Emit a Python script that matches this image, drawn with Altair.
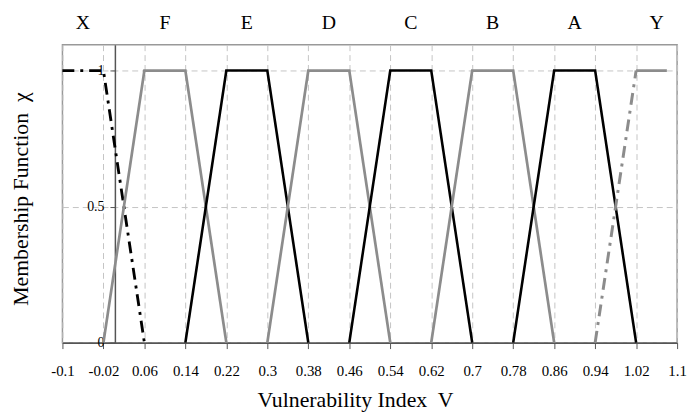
import altair as alt
import pandas as pd

# ---- data ----
x_ticks = [-0.1, -0.02, 0.06, 0.14, 0.22, 0.3, 0.38, 0.46, 0.54, 0.62, 0.7, 0.78, 0.86, 0.94, 1.02, 1.1]
y_ticks = [0, 0.5, 1]

set_names = ["X", "F", "E", "D", "C", "B", "A", "Y"]
set_label_x = [-0.06, 0.10, 0.26, 0.42, 0.58, 0.74, 0.90, 1.06]

x_title = "Vulnerability Index\u00a0 V"
y_title = "Membership Function\u00a0 \u03c7"

X_x = [-0.1, -0.02, 0.06]
X_y = [1, 1, 0]
F_x = [-0.02, 0.06, 0.14, 0.22]
F_y = [0, 1, 1, 0]
E_x = [0.14, 0.22, 0.30, 0.38]
E_y = [0, 1, 1, 0]
D_x = [0.30, 0.38, 0.46, 0.54]
D_y = [0, 1, 1, 0]
C_x = [0.46, 0.54, 0.62, 0.70]
C_y = [0, 1, 1, 0]
B_x = [0.62, 0.70, 0.78, 0.86]
B_y = [0, 1, 1, 0]
A_x = [0.78, 0.86, 0.94, 1.02]
A_y = [0, 1, 1, 0]
Y_ramp_x = [0.94, 1.02]
Y_ramp_y = [0, 1]
Y_top_x = [1.02, 1.08]
Y_top_y = [1, 1]

series = [
    ("X", X_x, X_y, "black_dashdot"),
    ("F", F_x, F_y, "gray_solid"),
    ("E", E_x, E_y, "black_solid"),
    ("D", D_x, D_y, "gray_solid"),
    ("C", C_x, C_y, "black_solid"),
    ("B", B_x, B_y, "gray_solid"),
    ("A", A_x, A_y, "black_solid"),
    ("Y1", Y_ramp_x, Y_ramp_y, "gray_dashdot"),
    ("Y2", Y_top_x, Y_top_y, "gray_solid"),
]

rows = []
for name, xs, ys, style in series:
    for i, (xv, yv) in enumerate(zip(xs, ys)):
        rows.append({"series": name, "i": i, "V": xv, "chi": yv, "style": style})
df = pd.DataFrame(rows)

labels_df = pd.DataFrame({"name": set_names, "V": set_label_x})

FONT = "Liberation Serif"
styles = ["black_solid", "gray_solid", "black_dashdot", "gray_dashdot"]

xscale = alt.Scale(domain=[-0.1, 1.1], nice=False, zero=False)
yscale = alt.Scale(domain=[0, 1.095], nice=False)

label_expr = "datum.value < 0 ? '-' + format(-datum.value, '.2~f') : format(datum.value, '.2~f')"

lines = alt.Chart(df).mark_line(strokeCap="butt").encode(
    x=alt.X("V:Q", scale=xscale,
            axis=alt.Axis(values=x_ticks, labelExpr=label_expr, title=None,
                          labelFont=FONT, labelFontSize=15, labelColor="#000",
                          labelFlush=False, labelOverlap=False,
                          labelPadding=15, tickSize=6, tickColor="#555",
                          domainColor="#555", domainWidth=1.5,
                          grid=True, gridDash=[6, 4], gridColor="#c4c4c4")),
    y=alt.Y("chi:Q", scale=yscale,
            axis=alt.Axis(values=y_ticks, format="~g", offset=-53, title=None,
                          labelFont=FONT, labelFontSize=14, labelColor="#000",
                          labelFlush=False, labelOverlap=False,
                          labelPadding=6, tickSize=5, tickColor="#555",
                          domainColor="#555", domainWidth=1.5,
                          grid=True, gridDash=[6, 4], gridColor="#c4c4c4")),
    detail="series:N",
    order="i:Q",
    color=alt.Color("style:N", legend=None,
                    scale=alt.Scale(domain=styles, range=["#000000", "#8c8c8c", "#000000", "#8c8c8c"])),
    strokeDash=alt.StrokeDash("style:N", legend=None,
                              scale=alt.Scale(domain=styles, range=[[1, 0], [1, 0], [12, 6, 3, 6], [12, 6, 3, 6]])),
    strokeWidth=alt.StrokeWidth("style:N", legend=None,
                                scale=alt.Scale(domain=styles, range=[2.6, 3, 2.6, 3])),
)

tops = alt.Chart(labels_df).mark_text(font=FONT, fontSize=20, color="#000", baseline="middle").encode(
    x=alt.X("V:Q", scale=xscale),
    y=alt.value(-22),
    text="name:N",
)

xt = alt.Chart(pd.DataFrame({"t": [x_title]})).mark_text(
    font=FONT, fontSize=22, color="#000", baseline="alphabetic", align="center"
).encode(x=alt.value(296), y=alt.value(366), text="t:N")

yt = alt.Chart(pd.DataFrame({"t": [y_title]})).mark_text(
    font=FONT, fontSize=22, color="#000", baseline="middle", align="center", angle=270
).encode(x=alt.value(-42), y=alt.value(156), text="t:N")

chart = alt.layer(lines, tops, xt, yt).properties(
    width=621, height=301,
    autosize=alt.AutoSizeParams(type="none"),
    padding={"left": 55, "top": 35, "right": 10, "bottom": 70},
).configure_view(stroke="#999999", strokeWidth=1.5)

chart.save("out.html", embed_options={"renderer": "svg", "actions": False})
